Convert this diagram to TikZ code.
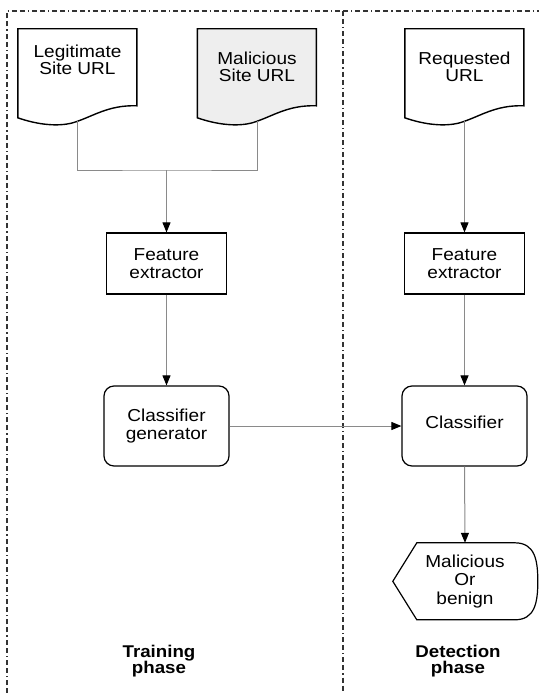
\documentclass[tikz,border=0pt]{standalone}
\usepackage{fontspec}
\setmainfont{Liberation Sans}[FakeStretch=1.1]
\usetikzlibrary{arrows.meta,calc}
\definecolor{docgray}{HTML}{EEEEEE}
\definecolor{conngray}{HTML}{8A8A8A}
\tikzset{
  every node/.style={font=\fontsize{17.3}{17.5}\selectfont, align=center},
  docnode/.style={minimum width=119pt, minimum height=92pt, inner sep=0pt},
  docline/.style={draw=black, line width=1.4pt},
  procbox/.style={draw=black, line width=1.2pt, minimum width=120pt, minimum height=61pt, inner sep=2pt},
  roundbox/.style={draw=black, line width=1.2pt, rounded corners=10pt, minimum width=125pt, minimum height=80pt, inner sep=2pt},
  conn/.style={draw=conngray, line width=1pt},
  arr/.style={conn, -{Triangle[length=10pt,width=8pt,color=black]}},
  framel/.style={draw=black!80, line width=1.2pt, dash pattern=on 5pt off 3pt on 5pt off 3pt on 1.2pt off 3pt},
  phase/.style={font=\fontsize{17}{16.5}\selectfont\bfseries}
}
\newcommand\docoutline[2]{%
  \begin{scope}[shift={(#1.north west)}]
    \draw[docline, fill=#2] (0,0) -- (119,0) -- (119,77)
      .. controls (90,76) and (75,88) .. (55,94)
      .. controls (40,98) and (20,96) .. (0,89) -- cycle;
  \end{scope}}
\begin{document}
\begin{tikzpicture}[x=1pt,y=-1pt]
\useasboundingbox[fill=white] (0,0) rectangle (539,693);
% frame
\draw[framel] (7,693) -- (7,11) -- (539,11);
\draw[framel] (343,11) -- (343,693);
% documents
\node[docnode] (leg) at (77.5,75) {};
\node[docnode] (mal) at (257,75) {};
\node[docnode] (req) at (464.5,75) {};
\docoutline{leg}{white}
\docoutline{mal}{docgray}
\docoutline{req}{white}
\node (legt) at ($(leg.north)+(0,31)$) {Legitimate\\Site URL};
\node (malt) at ($(mal.north)+(0,38)$) {Malicious\\Site URL};
\node (reqt) at ($(req.north)+(0,38)$) {Requested\\URL};
% process boxes
\node[procbox] (fe1) at (166.5,263.5) {Feature\\extractor};
\node[procbox] (fe2) at (464.5,263.5) {Feature\\extractor};
\node[roundbox] (cg) at (166.5,426) {Classifier\\generator};
\node[roundbox] (cls) at (464.5,426) {\raisebox{8pt}{Classifier}};
% output
\node[minimum width=144pt, minimum height=77pt, inner sep=0pt,
      font=\fontsize{17.3}{18.5}\selectfont] (out) at (465,581.5) {Malicious\\Or\\benign};
\begin{scope}[shift={(out.north west)}]
  \draw[docline, line width=1.2pt] (0,38.5) -- (24,0) -- (122,0)
    .. controls (142,0) and (145,17) .. (145,38.5)
    .. controls (145,60) and (142,77) .. (122,77) -- (24,77) -- cycle;
\end{scope}
% connectors
\coordinate (m) at (166.5,170);
\draw[conn] (leg.south) |- (m) -| (mal.south);
\draw[arr] (m) -- (fe1.north);
\draw[arr] (fe1.south) -- (cg.north);
\draw[arr] (req.south) -- (fe2.north);
\draw[arr] (fe2.south) -- (cls.north);
\draw[arr] (cg.east) -- (cls.west);
\draw[arr] (cls.south) -- (out.north);
% phase labels
\node[phase] (tp) at (159,661) {Training\\phase};
\node[phase] (dp) at (458,661) {Detection\\phase};
\end{tikzpicture}
\end{document}
